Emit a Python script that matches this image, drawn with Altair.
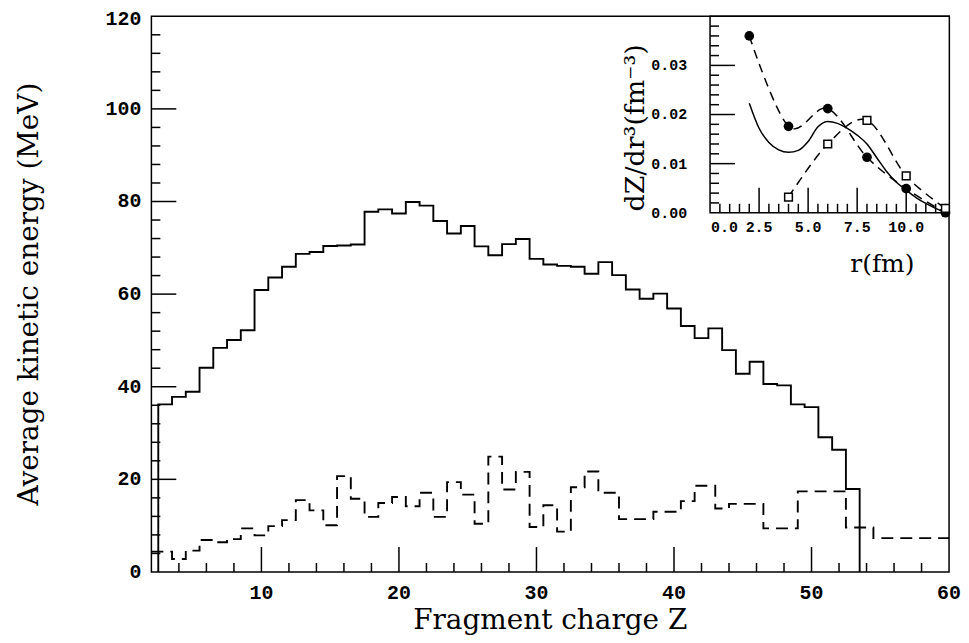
import altair as alt
import pandas as pd

W, H = 801, 558

# ---------------- main panel data ----------------
solid_z = list(range(3, 54))
solid_e = [36.2, 37.8, 38.9, 44.1, 48.4, 50.1, 52.2, 60.9, 63.6, 65.9,
           68.7, 69.1, 70.4, 70.5, 70.7, 77.8, 78.3, 77.4, 79.9, 79.1,
           75.8, 73.1, 74.7, 70.3, 68.4, 70.8, 71.9, 67.6, 66.4, 66.1,
           65.9, 64.4, 66.9, 64.1, 61.0, 59.0, 60.1, 56.9, 53.1, 50.5,
           52.6, 47.9, 42.8, 45.4, 40.6, 40.3, 36.2, 35.6, 29.1, 26.4, 17.9]

dash_edges = [2, 3.5, 4.5, 5.5, 6.5, 7.5, 8.5, 9.5, 10.5, 11.5, 12.5, 13.5,
              14.5, 15.5, 16.5, 17.5, 18.5, 19.5, 20.5, 21.5, 22.5, 23.5,
              24.5, 25.5, 26.5, 27.5, 28.5, 29.5, 30.5, 31.5, 32.5, 33.5,
              34.5, 36.0, 38.5, 40.5, 41.5, 43.0, 44.0, 46.5, 49.0, 52.5, 54.5, 60]
dash_e = [4.4, 2.8, 4.6, 6.9, 6.4, 7.1, 9.4, 7.9, 9.9, 11.2, 15.5, 13.3,
          10.1, 20.7, 15.8, 11.9, 14.9, 16.2, 14.2, 17.1, 11.9, 19.4,
          16.7, 10.4, 24.9, 17.8, 21.6, 9.7, 14.4, 8.7, 18.3, 21.7,
          17.1, 11.4, 13.0, 15.3, 18.6, 13.7, 14.7, 9.4, 17.4, 9.6, 7.3]

x_domain = [2, 60]
y_domain = [0, 120]
x_labels = [10, 20, 30, 40, 50, 60]
y_labels = [0, 20, 40, 60, 80, 100, 120]
x_major = [10, 20, 30, 40, 50]
x_minor = [z for z in range(4, 60, 2) if z % 10 != 0]
y_major = [20, 40, 60, 80, 100]
y_minor = [v for v in range(4, 120, 4) if v % 20 != 0]
x_title = ["Fragment charge Z"]
y_title = ["Average kinetic energy (MeV)"]

# ---------------- inset data ----------------
r_filled = [2, 4, 6, 8, 10, 12]
dz_filled = [0.0360, 0.0176, 0.0212, 0.0113, 0.0049, 0.0]
r_open = [4, 6, 8, 10, 12]
dz_open = [0.0032, 0.0140, 0.0188, 0.0075, 0.0009]
r_curve = [2.0, 2.5, 3.0, 3.5, 4.0, 4.5, 5.0, 5.5, 6.0, 6.5, 7.0, 7.5,
           8.0, 8.5, 9.0, 9.5, 10.0, 10.5, 11.0, 11.5, 12.0]
dz_curve = [0.0223, 0.0172, 0.0143, 0.0128, 0.0123, 0.0127, 0.0145, 0.0175,
            0.0186, 0.0182, 0.0172, 0.0158, 0.0140, 0.0112, 0.0084, 0.0062,
            0.0046, 0.0031, 0.0019, 0.0009, 0.0001]
r_domain = [0, 12.2]
dz_domain = [0, 0.04]
r_labels = [0, 2.5, 5.0, 7.5, 10.0]
dz_labels = [0.0, 0.01, 0.02, 0.03]
r_major = [2.5, 5.0, 7.5, 10.0]
r_minor = [i * 0.5 for i in range(1, 25) if (i * 0.5) % 2.5 != 0]
dz_major = [0.01, 0.02, 0.03]
dz_minor = [i * 0.002 for i in range(1, 20) if i % 5 != 0]
r_title = ["r(fm)"]
dz_title = ["dZ/dr³(fm⁻³)"]

# inset placement inside the plot area (pixels)
IX0, IX1 = 561, 801.3
IY0, IY1 = 197.3, 0

TICK_FONT = "Liberation Mono"
TITLE_FONT = "DejaVu Serif"

# ---------------- main panel ----------------
mx = alt.Scale(domain=x_domain, nice=False, zero=False)
my = alt.Scale(domain=y_domain, nice=False, zero=False)

solid_rows = [{"i": 0, "z": solid_z[0] - 0.5, "e": 0.0}]
for k, (z, e) in enumerate(zip(solid_z, solid_e)):
    solid_rows.append({"i": k + 1, "z": z - 0.5, "e": e})
solid_rows.append({"i": len(solid_z) + 1, "z": solid_z[-1] + 0.5, "e": 0.0})
solid_df = pd.DataFrame(solid_rows)

dash_rows = [{"i": k, "z": z, "e": e} for k, (z, e) in enumerate(zip(dash_edges[:-1], dash_e))]
dash_rows.append({"i": len(dash_e), "z": dash_edges[-1], "e": dash_e[-1]})
dash_df = pd.DataFrame(dash_rows)

solid = alt.Chart(solid_df).mark_line(interpolate="step-after", color="black",
                                      strokeWidth=1.9).encode(
    x=alt.X("z:Q", scale=mx, axis=None),
    y=alt.Y("e:Q", scale=my, axis=None),
    order="i:Q")

dashed = alt.Chart(dash_df).mark_line(interpolate="step-after", color="black",
                                      strokeWidth=1.9, strokeDash=[12, 7]).encode(
    x=alt.X("z:Q", scale=mx, axis=None),
    y=alt.Y("e:Q", scale=my, axis=None),
    order="i:Q")


def xticks(vals, length):
    return alt.Chart(pd.DataFrame({"v": vals})).mark_rule(color="black", strokeWidth=1.5).encode(
        x=alt.X("v:Q", scale=mx, axis=None), y=alt.value(H), y2=alt.value(H - length))


def yticks(vals, length):
    return alt.Chart(pd.DataFrame({"v": vals})).mark_rule(color="black", strokeWidth=1.5).encode(
        y=alt.Y("v:Q", scale=my, axis=None), x=alt.value(0), x2=alt.value(length))


xlab = alt.Chart(pd.DataFrame({"v": x_labels})).mark_text(
    font=TICK_FONT, fontWeight="bold", fontSize=20, color="black",
    align="center", baseline="top").encode(
    x=alt.X("v:Q", scale=mx, axis=None), y=alt.value(H + 11),
    text=alt.Text("v:Q", format="d"))
ylab = alt.Chart(pd.DataFrame({"v": y_labels[:-1]})).mark_text(
    font=TICK_FONT, fontWeight="bold", fontSize=20, color="black",
    align="right", baseline="middle").encode(
    y=alt.Y("v:Q", scale=my, axis=None), x=alt.value(-10),
    text=alt.Text("v:Q", format="d"))
ylab_top = alt.Chart(pd.DataFrame({"v": y_labels[-1:]})).mark_text(
    font=TICK_FONT, fontWeight="bold", fontSize=20, color="black",
    align="right", baseline="top", dy=-7).encode(
    y=alt.Y("v:Q", scale=my, axis=None), x=alt.value(-10),
    text=alt.Text("v:Q", format="d"))
xtit = alt.Chart(pd.DataFrame({"t": x_title})).mark_text(
    font=TITLE_FONT, fontSize=28, color="black", align="center",
    baseline="alphabetic").encode(x=alt.value(W / 2), y=alt.value(H + 57), text="t:N")
ytit = alt.Chart(pd.DataFrame({"t": y_title})).mark_text(
    font=TITLE_FONT, fontSize=28, color="black", align="center",
    baseline="middle", angle=270).encode(x=alt.value(-122), y=alt.value(H / 2), text="t:N")

main = alt.layer(xticks(x_major, 25), xticks(x_minor, 9),
                 yticks(y_major, 25), yticks(y_minor, 9),
                 dashed, solid, xlab, ylab, ylab_top, xtit, ytit)

# ---------------- inset ----------------
ix = alt.Scale(domain=r_domain, range=[IX0, IX1], nice=False, zero=False)
iy = alt.Scale(domain=dz_domain, range=[IY0, IY1], nice=False, zero=False)

frame_df = pd.DataFrame({"r0": [r_domain[0]], "r1": [r_domain[1]],
                         "d0": [dz_domain[0]], "d1": [dz_domain[1]]})
frame = alt.Chart(frame_df).mark_rect(fill="white", stroke="black", strokeWidth=1.5).encode(
    x=alt.X("r0:Q", scale=ix, axis=None), x2="r1:Q",
    y=alt.Y("d0:Q", scale=iy, axis=None), y2="d1:Q")


def rticks(vals, length):
    return alt.Chart(pd.DataFrame({"v": vals})).mark_rule(color="black", strokeWidth=1.5).encode(
        x=alt.X("v:Q", scale=ix, axis=None), y=alt.value(IY0), y2=alt.value(IY0 - length))


def dticks(vals, length):
    return alt.Chart(pd.DataFrame({"v": vals})).mark_rule(color="black", strokeWidth=1.5).encode(
        y=alt.Y("v:Q", scale=iy, axis=None), x=alt.value(IX0), x2=alt.value(IX0 + length))


def rlab(vals, align, dx):
    return alt.Chart(pd.DataFrame({"v": vals})).mark_text(
        font=TICK_FONT, fontWeight="bold", fontSize=15, color="black",
        align=align, baseline="top", dx=dx).encode(
        x=alt.X("v:Q", scale=ix, axis=None), y=alt.value(IY0 + 7),
        text=alt.Text("v:Q", format=".1f"))


dlab = alt.Chart(pd.DataFrame({"v": dz_labels})).mark_text(
    font=TICK_FONT, fontWeight="bold", fontSize=15, color="black",
    align="right", baseline="middle").encode(
    y=alt.Y("v:Q", scale=iy, axis=None), x=alt.value(IX0 - 23),
    text=alt.Text("v:Q", format=".2f"))
rtit = alt.Chart(pd.DataFrame({"t": r_title})).mark_text(
    font=TITLE_FONT, fontSize=25, color="black", align="center",
    baseline="alphabetic").encode(x=alt.value(734), y=alt.value(IY0 + 59), text="t:N")
dtit = alt.Chart(pd.DataFrame({"t": dz_title})).mark_text(
    font=TITLE_FONT, fontSize=27, color="black", align="center",
    baseline="middle", angle=270).encode(x=alt.value(IX0 - 74), y=alt.value(112), text="t:N")

curve = alt.Chart(pd.DataFrame({"r": r_curve, "d": dz_curve})).mark_line(
    color="black", strokeWidth=1.5, interpolate="monotone").encode(
    x=alt.X("r:Q", scale=ix, axis=None), y=alt.Y("d:Q", scale=iy, axis=None))

filled_df = pd.DataFrame({"r": r_filled, "d": dz_filled})
open_df = pd.DataFrame({"r": r_open, "d": dz_open})

filled_line = alt.Chart(filled_df).mark_line(
    color="black", strokeWidth=1.5, strokeDash=[9, 6], interpolate="cardinal").encode(
    x=alt.X("r:Q", scale=ix, axis=None), y=alt.Y("d:Q", scale=iy, axis=None))
open_line = alt.Chart(open_df).mark_line(
    color="black", strokeWidth=1.5, strokeDash=[9, 6], interpolate="cardinal").encode(
    x=alt.X("r:Q", scale=ix, axis=None), y=alt.Y("d:Q", scale=iy, axis=None))

filled_pts = alt.Chart(filled_df).mark_point(
    shape="circle", filled=True, color="black", size=95, opacity=1).encode(
    x=alt.X("r:Q", scale=ix, axis=None), y=alt.Y("d:Q", scale=iy, axis=None))
open_pts = alt.Chart(open_df).mark_point(
    shape="square", filled=True, fill="white", stroke="black", strokeWidth=1.5,
    size=60, opacity=1).encode(
    x=alt.X("r:Q", scale=ix, axis=None), y=alt.Y("d:Q", scale=iy, axis=None))

inset = alt.layer(frame, rticks(r_major, 25), rticks(r_minor, 9),
                  dticks(dz_major, 25), dticks(dz_minor, 9),
                  curve, filled_line, open_line, filled_pts, open_pts,
                  rlab(r_labels[:1], "left", 1), rlab(r_labels[1:], "center", 0),
                  dlab, rtit, dtit)

chart = alt.layer(main, inset).resolve_scale(x="independent", y="independent").properties(
    width=W, height=H,
    autosize=alt.AutoSizeParams(type="none"),
    padding={"left": 144, "top": 7, "right": 12, "bottom": 62},
    background="white",
).configure_view(stroke="black", strokeWidth=1.5)

chart.save("out.html", embed_options={"renderer": "svg", "actions": False})
